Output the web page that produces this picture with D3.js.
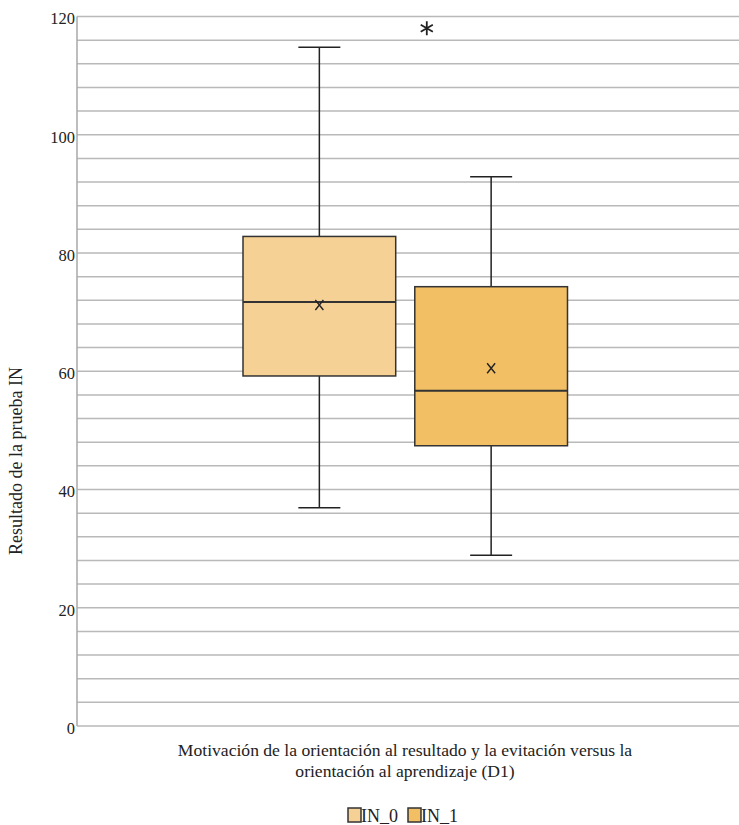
<!DOCTYPE html>
<html>
<head>
<meta charset="utf-8">
<script src="https://cdn.jsdelivr.net/npm/d3@7"></script>
<style>
  body { margin: 0; background: #fff; }
  svg text { font-family: "Liberation Serif", "Times New Roman", serif; fill: #222; }
</style>
</head>
<body>
<div id="chart"></div>
<script>
// boxplot summary per group
var groups = ["IN_0", "IN_1"];
var whiskLow = [36.9, 28.9];
var q1 = [59.2, 47.4];
var medians = [71.7, 56.7];
var q3 = [82.8, 74.3];
var whiskHigh = [114.8, 92.9];
var means = [71.2, 60.5];
var outlierGroup = ["IN_1"];
var outlierValue = [118.0];
var yTicks = [0, 20, 40, 60, 80, 100, 120];
var fills = ["#f5d195", "#f2bf65"];

var W = 739, H = 825;
var margin = {top: 16.5, left: 77, right: 0, bottom: 99};

var svg = d3.select("#chart").append("svg")
    .attr("width", W).attr("height", H);

var y = d3.scaleLinear().domain([0, 120]).range([H - margin.bottom, margin.top]);

// single category spanning the plot, boxes sit inside it
var x = d3.scaleBand().domain(groups)
    .range([243, 567.5]).paddingInner(0.111).paddingOuter(0);

// grid every 4 units
var grid = d3.range(0, 121, 4);
svg.append("g").selectAll("line").data(grid).enter().append("line")
    .attr("x1", margin.left).attr("x2", W)
    .attr("y1", function(d){ return y(d); })
    .attr("y2", function(d){ return y(d); })
    .attr("stroke", "#b9b9b9").attr("stroke-width", 1.5);

// y axis line
svg.append("line")
    .attr("x1", margin.left).attr("x2", margin.left)
    .attr("y1", y(120)).attr("y2", y(0))
    .attr("stroke", "#a8a8a8").attr("stroke-width", 1.5);

svg.append("g").selectAll("text").data(yTicks).enter().append("text")
    .attr("x", margin.left - 2)
    .attr("y", function(d){ return y(d) + 2; })
    .attr("dy", "0.35em")
    .attr("text-anchor", "end")
    .style("font-size", "16.5px")
    .text(function(d){ return d; });

svg.append("text")
    .attr("transform", "translate(22,461) rotate(-90)")
    .attr("text-anchor", "middle")
    .style("font-size", "18px")
    .text("Resultado de la prueba IN");

// boxes
var bw = x.bandwidth();
var capW = 42;
var boxes = svg.append("g").selectAll("g").data(groups).enter().append("g");

boxes.append("line")
    .attr("x1", function(d){ return x(d) + bw / 2; })
    .attr("x2", function(d){ return x(d) + bw / 2; })
    .attr("y1", function(d, i){ return y(whiskHigh[i]); })
    .attr("y2", function(d, i){ return y(whiskLow[i]); })
    .attr("stroke", "#222").attr("stroke-width", 1.5);

[whiskHigh, whiskLow].forEach(function(arr){
  boxes.append("line")
      .attr("x1", function(d){ return x(d) + bw / 2 - capW / 2; })
      .attr("x2", function(d){ return x(d) + bw / 2 + capW / 2; })
      .attr("y1", function(d, i){ return y(arr[i]); })
      .attr("y2", function(d, i){ return y(arr[i]); })
      .attr("stroke", "#222").attr("stroke-width", 1.5);
});

boxes.append("rect")
    .attr("x", function(d){ return x(d); })
    .attr("width", bw)
    .attr("y", function(d, i){ return y(q3[i]); })
    .attr("height", function(d, i){ return y(q1[i]) - y(q3[i]); })
    .attr("fill", function(d, i){ return fills[i]; })
    .attr("stroke", "#333").attr("stroke-width", 1.5);

boxes.append("line")
    .attr("x1", function(d){ return x(d); })
    .attr("x2", function(d){ return x(d) + bw; })
    .attr("y1", function(d, i){ return y(medians[i]); })
    .attr("y2", function(d, i){ return y(medians[i]); })
    .attr("stroke", "#333").attr("stroke-width", 2);

// mean marker
boxes.append("path")
    .attr("d", function(d, i){
      var cx = x(d) + bw / 2, cy = y(means[i]), sx = 4, sy = 5;
      return "M" + (cx - sx) + "," + (cy - sy) + "L" + (cx + sx) + "," + (cy + sy) +
             "M" + (cx + sx) + "," + (cy - sy) + "L" + (cx - sx) + "," + (cy + sy);
    })
    .attr("stroke", "#222").attr("stroke-width", 1.4).attr("fill", "none");

// extreme outlier asterisk
outlierGroup.forEach(function(g, i){
  var cx = x(g) + 12, cy = y(outlierValue[i]), r = 7;
  var p = "";
  [90, 30, 150].forEach(function(a){
    var rad = a * Math.PI / 180, dx = r * Math.cos(rad), dy = r * Math.sin(rad);
    p += "M" + (cx - dx) + "," + (cy - dy) + "L" + (cx + dx) + "," + (cy + dy);
  });
  svg.append("path").attr("d", p)
      .attr("stroke", "#222").attr("stroke-width", 1.8).attr("fill", "none");
});

// x axis title
var xt = svg.append("text").attr("text-anchor", "middle").style("font-size", "17.6px");
xt.append("tspan").attr("x", 405).attr("y", 756)
    .text("Motivación de la orientación al resultado y la evitación versus la");
xt.append("tspan").attr("x", 405).attr("y", 777)
    .text("orientación al aprendizaje (D1)");

// legend
var legX = [348, 408];
var leg = svg.append("g").selectAll("g").data(groups).enter().append("g")
    .attr("transform", function(d, i){ return "translate(" + legX[i] + ",808)"; });
leg.append("rect").attr("width", 13).attr("height", 14)
    .attr("fill", function(d, i){ return fills[i]; })
    .attr("stroke", "#333").attr("stroke-width", 1.5);
leg.append("text").attr("x", 13).attr("y", 13.5)
    .style("font-size", "18px")
    .text(function(d){ return d; });
</script>
</body>
</html>
